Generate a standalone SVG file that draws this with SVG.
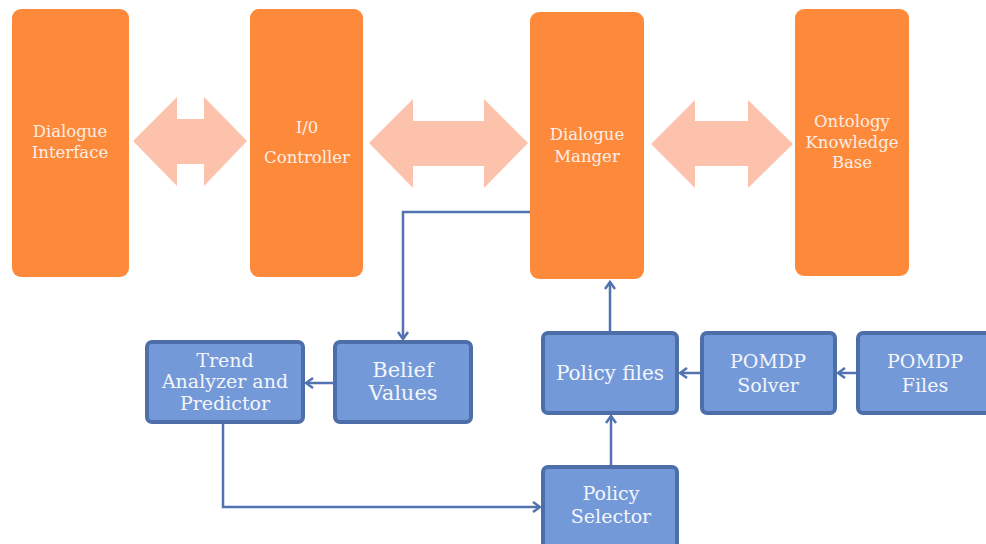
<svg xmlns="http://www.w3.org/2000/svg" width="986" height="544" viewBox="0 0 986 544">
<style>
.or{fill:#FD8A3B}
.bl{fill:#7399D8;stroke:#4E6EA9;stroke-width:4}
.dbl{fill:#FCC2AC}
.ot{font-family:"DejaVu Serif","Liberation Serif",serif;font-size:16.5px;fill:#FCEEE6;text-anchor:middle}
.bt{font-family:"DejaVu Serif","Liberation Serif",serif;font-size:19px;fill:#F4F6FB;text-anchor:middle}
.cn{fill:none;stroke:#5173B0;stroke-width:2.5;marker-end:url(#ah)}
</style>
<defs>
<marker id="ah" viewBox="0 0 12 12" refX="10" refY="6" markerWidth="12" markerHeight="12" markerUnits="userSpaceOnUse" orient="auto">
<polyline points="3,1 10,6 3,11" fill="none" stroke="#5173B0" stroke-width="2.5"/>
</marker>
</defs>
<rect width="986" height="544" fill="#FFFFFF"/>
<g id="arrows-big">
<polygon class="dbl" points="133,141 177,97 177,119 204,119 204,97 247,141 204,186 204,164 177,164 177,186"/>
<polygon class="dbl" points="369,143 413,99 413,121 484,121 484,99 528,143 484,188 484,166 413,166 413,188"/>
<polygon class="dbl" points="651,144 695,100 695,121 748,121 748,100 793,144 748,188 748,166 695,166 695,188"/>
</g>
<g id="dialogue-interface">
<rect class="or" x="12" y="9" width="117" height="268" rx="9"/>
<text class="ot" x="70" y="137">Dialogue</text>
<text class="ot" x="70" y="158">Interface</text>
</g>
<g id="io-controller">
<rect class="or" x="250" y="9" width="113" height="268" rx="9"/>
<text class="ot" x="307" y="133">I/0</text>
<text class="ot" x="307" y="163">Controller</text>
</g>
<g id="dialogue-manager">
<rect class="or" x="530" y="12" width="114" height="267" rx="9"/>
<text class="ot" x="587" y="140">Dialogue</text>
<text class="ot" x="587" y="162">Manger</text>
</g>
<g id="ontology-kb">
<rect class="or" x="795" y="9" width="114" height="267" rx="9"/>
<text class="ot" x="852" y="127">Ontology</text>
<text class="ot" x="852" y="148">Knowledge</text>
<text class="ot" x="852" y="168">Base</text>
</g>
<g id="connectors">
<polyline class="cn" points="530,212 403,212 403,339"/>
<polyline class="cn" points="335,383 306,383"/>
<polyline class="cn" points="223,424 223,507 540,507"/>
<polyline class="cn" points="611,465 611,416"/>
<polyline class="cn" points="610,331 610,282"/>
<polyline class="cn" points="702,373 680,373"/>
<polyline class="cn" points="858,373 838,373"/>
</g>
<g id="trend-analyzer">
<rect class="bl" x="147" y="342" width="156" height="80" rx="5"/>
<text class="bt" x="225" y="367">Trend</text>
<text class="bt" x="225" y="388">Analyzer and</text>
<text class="bt" x="225" y="410">Predictor</text>
</g>
<g id="belief-values">
<rect class="bl" x="335" y="342" width="136" height="80" rx="5"/>
<text class="bt" x="403" y="377" style="font-size:21px">Belief</text>
<text class="bt" x="403" y="400" style="font-size:21px">Values</text>
</g>
<g id="policy-files">
<rect class="bl" x="543" y="333" width="134" height="80" rx="5"/>
<text class="bt" x="610" y="380" style="font-size:20px">Policy files</text>
</g>
<g id="pomdp-solver">
<rect class="bl" x="702" y="333" width="133" height="80" rx="5"/>
<text class="bt" x="768" y="368">POMDP</text>
<text class="bt" x="768" y="392">Solver</text>
</g>
<g id="pomdp-files">
<rect class="bl" x="858" y="333" width="140" height="80" rx="5"/>
<text class="bt" x="925" y="368">POMDP</text>
<text class="bt" x="925" y="392">Files</text>
</g>
<g id="policy-selector">
<rect class="bl" x="543" y="467" width="134" height="90" rx="5"/>
<text class="bt" x="611" y="500">Policy</text>
<text class="bt" x="611" y="523">Selector</text>
</g>
</svg>
